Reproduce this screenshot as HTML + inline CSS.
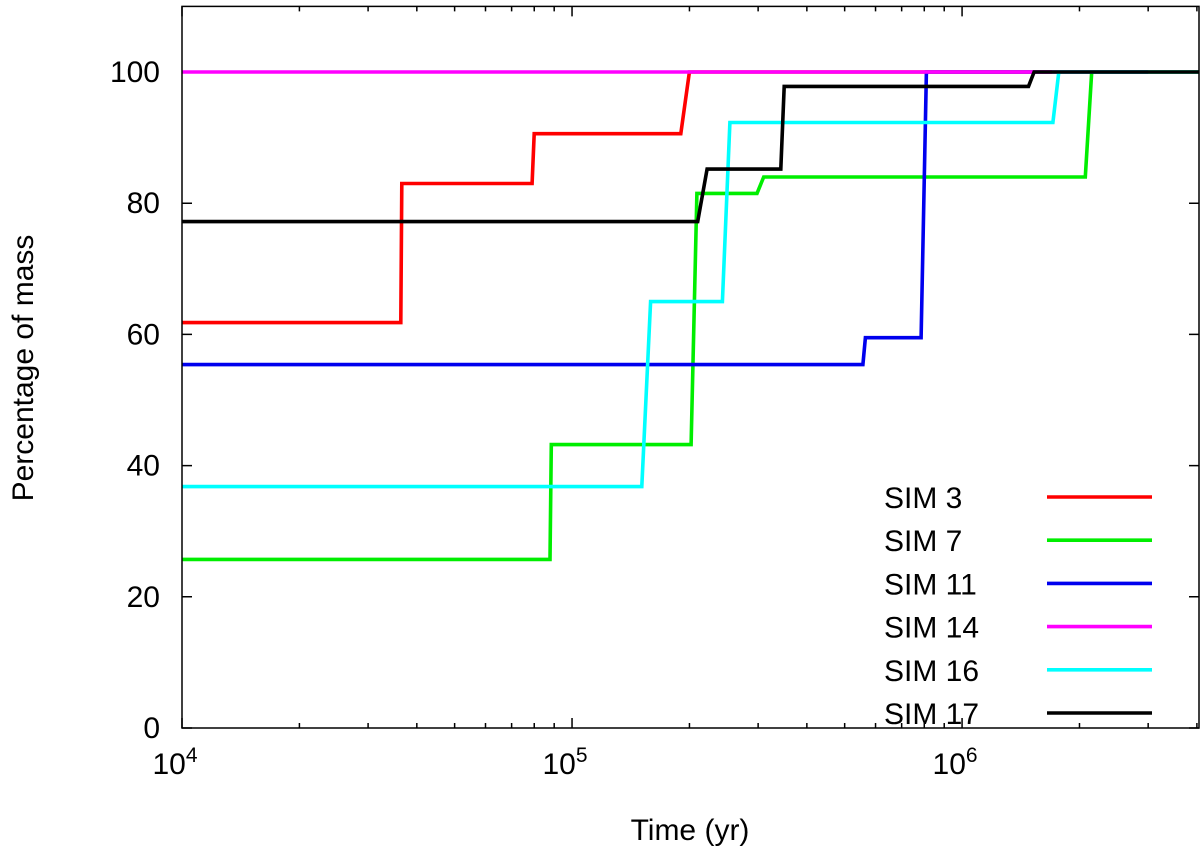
<!DOCTYPE html>
<html><head><meta charset="utf-8"><style>
body{margin:0;background:#fff}
svg{display:block;font-family:"Liberation Sans",sans-serif}
</style></head><body>
<svg id="chart" width="1200" height="853" viewBox="0 0 1200 853"></svg>
<script>
const seriesNames=["SIM 3","SIM 7","SIM 11","SIM 14","SIM 16","SIM 17"];
const seriesColors=["#ff0000","#00ee00","#0000ee","#ff00ff","#00ffff","#000000"];
const t3=[1e4,3.64e4,3.66e4,7.9e4,8.0e4,1.9e5,2.0e5,1.7e6];
const v3=[61.8,61.8,83,83,90.6,90.6,100,100];
const t7=[1e4,8.78e4,8.85e4,2.02e5,2.09e5,2.98e5,3.1e5,2.07e6,2.15e6,4.05e6];
const v7=[25.7,25.7,43.2,43.2,81.5,81.5,84,84,100,100];
const t11=[1e4,5.57e5,5.65e5,7.85e5,8.1e5,3e6];
const v11=[55.4,55.4,59.5,59.5,100,100];
const t14=[1e4,1.7e6];
const v14=[100,100];
const t16=[1e4,1.51e5,1.59e5,2.43e5,2.54e5,1.71e6,1.77e6,4.05e6];
const v16=[36.8,36.8,65,65,92.3,92.3,100,100];
const t17=[1e4,2.10e5,2.22e5,3.43e5,3.5e5,1.48e6,1.53e6,4.05e6];
const v17=[77.2,77.2,85.2,85.2,97.8,97.8,100,100];
const yTicks=[0,20,40,60,80,100];
const xTickExps=[4,5,6];
const allT=[t3,t7,t11,t14,t16,t17], allV=[v3,v7,v11,v14,v16,v17];

const L=182,R=1199,T=6.4,B=728;
const xMin=4,xMax=Math.log10(4.05e6),yMin=0,yMax=110;
const X=t=>L+(Math.log10(t)-xMin)/(xMax-xMin)*(R-L);
const Y=v=>B-(v-yMin)/(yMax-yMin)*(B-T);
const svg=document.getElementById('chart');
const NS='http://www.w3.org/2000/svg';
function mk(tag,attrs,parent){const e=document.createElementNS(NS,tag);for(const k in attrs)e.setAttribute(k,attrs[k]);(parent||svg).appendChild(e);return e;}

yTicks.forEach(v=>{
  const y=Y(v);
  const tk=mk('path',{d:`M${L},${y}h10M${R},${y}h-10`,stroke:'#000','stroke-width':1.5});
  
  
  const tx=mk('text',{x:160,y:y+10,'text-anchor':'end','font-size':30});
  tx.textContent=v;
  
  
});
for(let e=xTickExps[0];e<=6;e++){
  for(let m=1;m<10;m++){
    const t=m*Math.pow(10,e); if(Math.log10(t)>xMax)break;
    const x=X(t),len=m===1?10:5;
    const tk=mk('path',{d:`M${x},${B}v${-len}M${x},${T}v${len}`,stroke:'#000','stroke-width':1.5});
    
    
  }
}
xTickExps.forEach(e=>{
  const x=X(Math.pow(10,e));
  const tx=mk('text',{x:x-7,y:774,'text-anchor':'middle','font-size':30});
  tx.textContent='10';
  const s=mk('tspan',{dy:-12,'font-size':21},tx);s.textContent=e;
  
  
});

allT.forEach((ts,i)=>{
  const pts=ts.map((t,j)=>X(t).toFixed(1)+','+Y(allV[i][j]).toFixed(1)).join(' ');
  const p=mk('polyline',{points:pts,fill:'none',stroke:seriesColors[i],'stroke-width':3.6,'stroke-linejoin':'miter'});
  
  
  const ly=497+i*43.2;
  const lt=mk('text',{x:884,y:ly+11,'font-size':30});
  lt.textContent=seriesNames[i];
  
  
  const ll=mk('line',{x1:1047,x2:1152,y1:ly,y2:ly,stroke:seriesColors[i],'stroke-width':3.6});
  
  
});

const fr=mk('rect',{x:L,y:T,width:R-L,height:B-T,fill:'none',stroke:'#000','stroke-width':1.5});


const xt=mk('text',{x:690,y:840,'text-anchor':'middle','font-size':30});
xt.textContent='Time (yr)';


const yt=mk('text',{x:0,y:0,'text-anchor':'middle','font-size':30,transform:'translate(33,368) rotate(-90)'});
yt.textContent='Percentage of mass';


</script>
</body></html>
